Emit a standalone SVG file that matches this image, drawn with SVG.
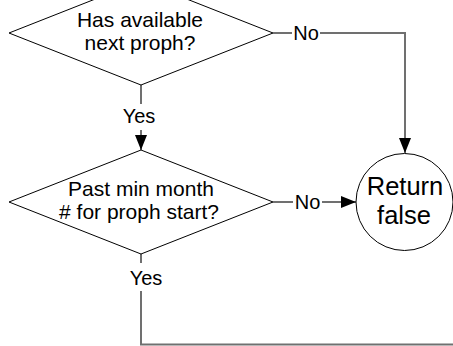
<svg xmlns="http://www.w3.org/2000/svg" width="453" height="346" viewBox="0 0 453 346">
<style>
.shape{fill:#fff;stroke:#000;stroke-width:1}
.conn{fill:none;stroke:#707070;stroke-width:2}
.t{font-family:"Liberation Sans",Arial,sans-serif;font-size:21px;fill:#000;text-anchor:middle}
.lbl{font-family:"Liberation Sans",Arial,sans-serif;font-size:20px;fill:#000;text-anchor:middle}
.big{font-family:"Liberation Sans",Arial,sans-serif;font-size:25.5px;fill:#000;text-anchor:middle}
</style>
<defs>
<marker id="arr" markerWidth="15" markerHeight="12" refX="15" refY="6" orient="auto" markerUnits="userSpaceOnUse">
<path d="M0,0 L15,6 L0,12 Z" fill="#000"/>
</marker>
</defs>
<rect width="453" height="346" fill="#fff"/>
<g id="connectors">
<path class="conn" d="M141,85 V104"/>
<path class="conn" d="M141,130 V150" marker-end="url(#arr)"/>
<path class="conn" d="M273,33 H292"/>
<path class="conn" d="M320,33 H405 V153" marker-end="url(#arr)"/>
<path class="conn" d="M273,202 H293"/>
<path class="conn" d="M322,202 H356" marker-end="url(#arr)"/>
<path class="conn" d="M141,254 V263"/>
<path class="conn" d="M141,291 V344.5 H453"/>
<text class="lbl" x="306" y="40">No</text>
<text class="lbl" x="307.5" y="209">No</text>
<text class="lbl" x="139" y="123">Yes</text>
<text class="lbl" x="146" y="285">Yes</text>
</g>
<g id="decision1">
<polygon class="shape" points="141,-19 273,33 141,85 9,33"/>
<text class="t" x="140" y="27">Has available</text>
<text class="t" x="140" y="50">next proph?</text>
</g>
<g id="decision2">
<polygon class="shape" points="141,150 273,202 141,254 9,202"/>
<text class="t" x="141" y="196">Past min month</text>
<text class="t" x="139" y="219"># for proph start?</text>
</g>
<g id="return">
<circle class="shape" cx="404.5" cy="202" r="48.5"/>
<text class="big" x="405" y="195">Return</text>
<text class="big" x="404" y="224">false</text>
</g>
</svg>
